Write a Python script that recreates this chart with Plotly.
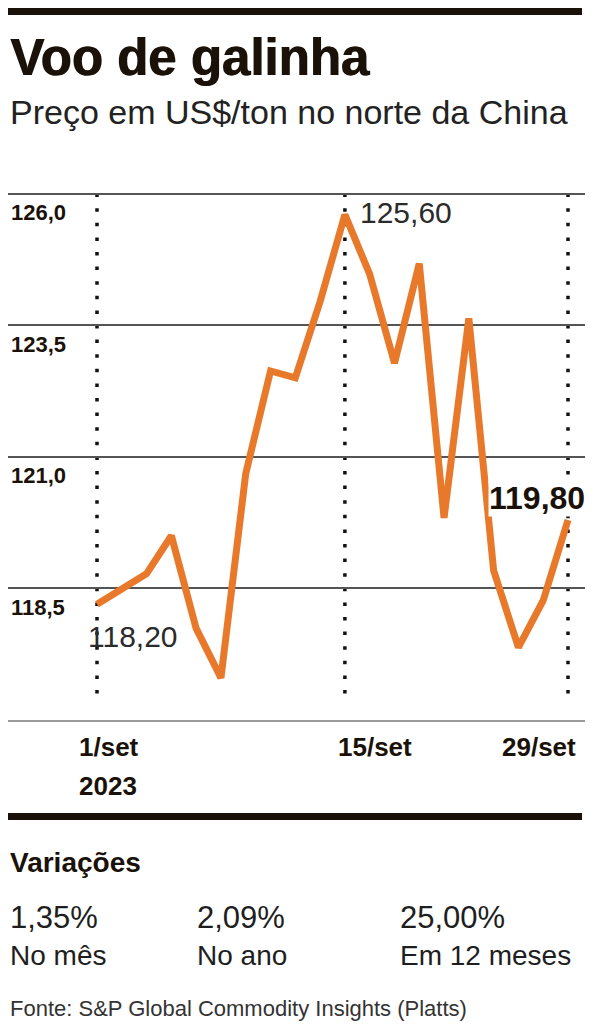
"""
Voo de galinha: preço do frango no norte da China, setembro de 2023.
"""

import plotly.graph_objects as go

# dados (pregões de setembro/2023, em ordem)
precos = [118.20, 118.48, 118.78, 119.50, 117.74, 116.80, 120.68, 122.63, 122.50, 123.95,
          125.60, 124.47, 122.78, 124.67, 119.84, 123.63, 118.84, 117.38, 118.27, 119.80]
pontos = list(range(len(precos)))

eixo_y_vals = [118.5, 121.0, 123.5, 126.0]
eixo_y_txt = ["118,5", "121,0", "123,5", "126,0"]
marcos_x = [0, 10, 19]
marcos_txt = ["1/set", "15/set", "29/set"]

variacoes = ["1,35%", "2,09%", "25,00%"]
variacoes_txt = ["No mês", "No ano", "Em 12 meses"]

LARANJA = "#E8792B"
PRETO = "#1a1209"
OFF = 8                       # margem padrão do <body> da página
W, H = 596 - OFF, 1024 - OFF
# área do gráfico em pixels da página
TOP, BOTTOM, LEFT, RIGHT = 192, 720, OFF, 585


def py(pix):
    """pixel da página -> coordenada paper (y)"""
    return (BOTTOM - pix) / (BOTTOM - TOP)


def px(pix):
    """pixel da página -> coordenada paper (x)"""
    return (pix - LEFT) / (RIGHT - LEFT)


def fmt(v):
    return f"{v:.2f}".replace(".", ",")


fig = go.Figure()
fig.add_trace(go.Scatter(x=pontos, y=precos, mode="lines",
                         line=dict(color=LARANJA, width=7), hoverinfo="skip"))

# linhas pontilhadas verticais nas datas marcadas
for m in marcos_x:
    fig.add_shape(type="line", x0=m, x1=m, y0=126.0, y1=116.3, xref="x", yref="y",
                  line=dict(color="#111", width=3.5, dash="3.5px,11.1px"), layer="below")

sans = "Liberation Sans"

# rótulos de valores
fig.add_annotation(x=pontos[0], y=precos[0], text=fmt(precos[0]), showarrow=False,
                   xanchor="left", yanchor="middle", xshift=-11, yshift=-32,
                   font=dict(family=sans, size=30, color="#2b2b2b"))
i_max = precos.index(max(precos))
fig.add_annotation(x=pontos[i_max], y=precos[i_max], text=fmt(precos[i_max]), showarrow=False,
                   xanchor="left", yanchor="middle", xshift=13, yshift=2,
                   font=dict(family=sans, size=30, color="#2b2b2b"))
fig.add_annotation(x=pontos[-1], y=precos[-1], text=f"<b>{fmt(precos[-1])}</b>", showarrow=False,
                   xanchor="right", yanchor="middle", xshift=18, yshift=22,
                   bgcolor="white", borderpad=0,
                   font=dict(family=sans, size=32, color=PRETO))

# datas do eixo x
ajustes = [("left", -20), ("left", -9), ("right", 10)]
for m, t, (anc, sh) in zip(marcos_x, marcos_txt, ajustes):
    fig.add_annotation(x=m, y=py(747), yref="paper", text=f"<b>{t}</b>", showarrow=False,
                       xanchor=anc, yanchor="middle", xshift=sh,
                       font=dict(family=sans, size=26, color=PRETO))
fig.add_annotation(x=marcos_x[0], y=py(786), yref="paper", text="<b>2023</b>", showarrow=False,
                   xanchor="left", yanchor="middle", xshift=-20,
                   font=dict(family=sans, size=26, color=PRETO))

# título e subtítulo
fig.add_annotation(x=px(8), y=py(57), xref="paper", yref="paper", text="<b>Voo de galinha</b>",
                   showarrow=False, xanchor="left", yanchor="middle",
                   font=dict(family=sans, size=51, color=PRETO, shadow=f"1px 0px 0px {PRETO}"))
fig.add_annotation(x=px(8), y=py(112), xref="paper", yref="paper",
                   text="Preço em US$/ton no norte da China",
                   showarrow=False, xanchor="left", yanchor="middle",
                   font=dict(family=sans, size=34, color="#222"))

# bloco de variações
fig.add_annotation(x=px(8), y=py(862), xref="paper", yref="paper", text="<b>Variações</b>",
                   showarrow=False, xanchor="left", yanchor="middle",
                   font=dict(family=sans, size=28, color=PRETO))
for xp, v, t in zip([8, 195, 398], variacoes, variacoes_txt):
    fig.add_annotation(x=px(xp), y=py(917), xref="paper", yref="paper", text=v,
                       showarrow=False, xanchor="left", yanchor="middle",
                       font=dict(family=sans, size=31, color="#1e1e1e"))
    fig.add_annotation(x=px(xp), y=py(955), xref="paper", yref="paper", text=t,
                       showarrow=False, xanchor="left", yanchor="middle",
                       font=dict(family=sans, size=28, color="#1e1e1e"))
fig.add_annotation(x=px(8), y=py(1008), xref="paper", yref="paper",
                   text="Fonte: S&P Global Commodity Insights (Platts)",
                   showarrow=False, xanchor="left", yanchor="middle",
                   font=dict(family=sans, size=22, color="#333"))

# fios pretos
fig.add_shape(type="rect", xref="paper", yref="paper", x0=px(OFF), x1=px(582),
              y0=py(OFF), y1=py(15), fillcolor=PRETO, line_width=0)
fig.add_shape(type="rect", xref="paper", yref="paper", x0=px(OFF), x1=px(582),
              y0=py(813), y1=py(820), fillcolor=PRETO, line_width=0)

# faixa do eixo x: pontos 0 e 19 caem em 97 px e 568 px da página
passo = (568 - 97) / (pontos[-1] - pontos[0])
x_ini = pontos[0] + (LEFT - 97) / passo
x_fim = pontos[-1] + (RIGHT - 568) / passo

fig.update_layout(
    width=W, height=H,
    margin=dict(l=0, r=596 - RIGHT, t=TOP - OFF, b=1024 - BOTTOM),
    plot_bgcolor="white", paper_bgcolor="white",
    showlegend=False,
    xaxis=dict(range=[x_ini, x_fim], showgrid=False, zeroline=False, showticklabels=False,
               showline=True, linecolor="#9a9a9a", linewidth=2, fixedrange=True),
    yaxis=dict(range=[116, 126.03], tickvals=eixo_y_vals, ticktext=eixo_y_txt,
               showgrid=True, gridcolor="#555", gridwidth=1.5, zeroline=False,
               ticklabelposition="inside", ticklabelshift=19, ticklabelstandoff=0,
               tickfont=dict(family=sans, size=22, color=PRETO, weight="bold"),
               fixedrange=True),
)

fig.write_html("out.html")
